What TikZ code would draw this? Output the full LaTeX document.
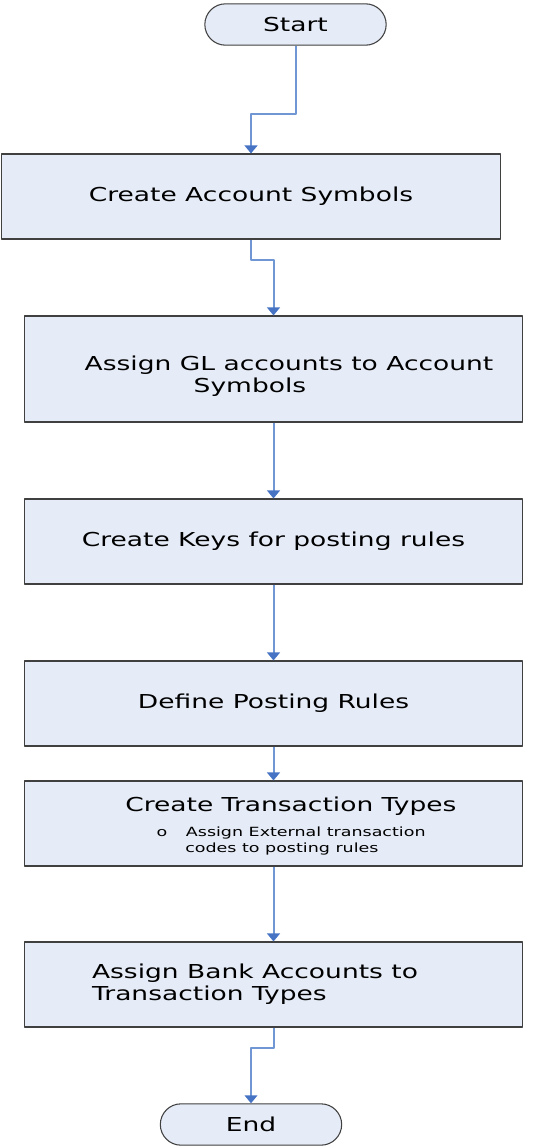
\documentclass[tikz,border=0pt]{standalone}
\usepackage{fontspec}
\setmainfont{DejaVu Sans}[FakeStretch=1.38]
\usetikzlibrary{arrows.meta,calc,positioning}
\definecolor{boxfill}{RGB}{230,236,247}
\definecolor{boxline}{RGB}{64,64,64}
\definecolor{flowline}{RGB}{112,150,212}
\definecolor{flowhead}{RGB}{70,115,196}
\newcommand\mainsize{\fontsize{14.4}{16.5}\selectfont}
\newcommand\subsize{\fontsize{9.5}{12}\selectfont}

\begin{document}
\begin{tikzpicture}[x=0.75pt,y=-0.75pt,line join=round,
  stepbox/.style={draw=boxline,line width=0.8pt,fill=boxfill,minimum width=374pt,minimum height=63.75pt,inner sep=0pt,font=\mainsize},
  termbox/.style={draw=boxline,line width=0.8pt,fill=boxfill,rounded corners=15.5pt,minimum width=136pt,minimum height=31pt,inner sep=0pt,font=\mainsize},
  flow/.style={draw=flowline,line width=1.5pt,-{Triangle[width=9.5pt,length=6pt,color=flowhead]}}]
\useasboundingbox (0,0) rectangle (537,1146);
% terminals and steps
\node[termbox] (start) at (295.5,24.5) {Start};
\node[stepbox] (symbols) at (251,196.5) {Create Account Symbols};
\node[stepbox,minimum height=79.5pt,align=left] (glacct) at (273.5,369) {\rule{0pt}{21.5pt}\hspace*{23.25pt}Assign GL accounts to Account\\\hspace*{105pt}Symbols};
\node[stepbox] (keys) at (273.5,541.5) {Create Keys for posting rules};
\node[stepbox] (rules) at (273.5,703.5) {Define Posting Rules};
\node[stepbox,align=left] (types) at (273.5,823.5) {\rule{0pt}{15pt}\hspace*{26pt}Create Transaction Types\\[2.25pt]
  \subsize\hspace*{49.5pt}o\hspace*{14pt}Assign External transaction\\[-4.5pt]
  \subsize\hspace*{71pt}codes to posting rules};
\node[stepbox,align=left] (bank) at (273.5,984.5) {Assign Bank Accounts to\hspace*{27.75pt}\\Transaction Types};
\node[termbox] (finish) at (251,1124.5) {End};
% connectors
\draw[flow] (start.south) -- (start.south |- 0,114) -| (symbols.north);
\draw[flow] (symbols.south) -- (symbols.south |- 0,260) -| (glacct.north);
\draw[flow] (glacct.south) -- (keys.north);
\draw[flow] (keys.south) -- (rules.north);
\draw[flow] (rules.south) -- (types.north);
\draw[flow] (types.south) -- (bank.north);
\draw[flow] (bank.south) -- (bank.south |- 0,1048) -| (finish.north);
\end{tikzpicture}
\end{document}
